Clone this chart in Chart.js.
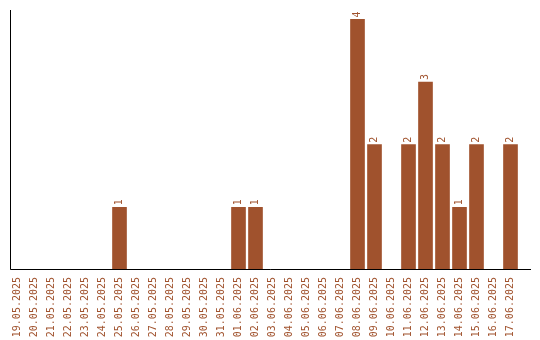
<!DOCTYPE html>
<html>
<head>
    <title>Daily Count</title>
    <script src="https://cdn.jsdelivr.net/npm/chart.js"></script>
    <style>
body{
    margin: 0;
    background-color: #ffffff;
}
#wrap{
    width: 540px;
    height: 340px;
}
    </style>
</head>
<body>
    <div id="wrap">
        <canvas id="dailyChart"></canvas>
    </div>

    <script>
        const days = ['19.05.2025','20.05.2025','21.05.2025','22.05.2025','23.05.2025','24.05.2025','25.05.2025',
            '26.05.2025','27.05.2025','28.05.2025','29.05.2025','30.05.2025','31.05.2025','01.06.2025',
            '02.06.2025','03.06.2025','04.06.2025','05.06.2025','06.06.2025','07.06.2025','08.06.2025',
            '09.06.2025','10.06.2025','11.06.2025','12.06.2025','13.06.2025','14.06.2025','15.06.2025',
            '16.06.2025','17.06.2025'];
        const counts = [0,0,0,0,0,0,1, 0,0,0,0,0,0,1, 1,0,0,0,0,0,4, 2,0,2,3,2,1,2, 0,2];

        const barColor = '#a0522d';
        const monoFont = '"DejaVu Sans Mono", monospace';

        // axis lines + rotated value labels on top of the bars
        const decorations = {
            id: 'decorations',
            afterDatasetsDraw(chart) {
                const ctx = chart.ctx;
                const area = chart.chartArea;
                ctx.save();
                ctx.strokeStyle = '#000';
                ctx.lineWidth = 1;
                ctx.beginPath();
                ctx.moveTo(area.left + 1.5, area.top);
                ctx.lineTo(area.left + 1.5, area.bottom - 0.5);
                ctx.lineTo(area.right + 12, area.bottom - 0.5);
                ctx.stroke();

                ctx.fillStyle = barColor;
                ctx.font = '10px ' + monoFont;
                ctx.textAlign = 'left';
                ctx.textBaseline = 'middle';
                chart.getDatasetMeta(0).data.forEach((bar, i) => {
                    if (!counts[i]) return;
                    ctx.save();
                    ctx.translate(bar.x, bar.y - 2);
                    ctx.rotate(-Math.PI / 2);
                    ctx.fillText(String(counts[i]), 0, 0);
                    ctx.restore();
                });
                ctx.restore();
            }
        };

        new Chart(document.getElementById('dailyChart'), {
            type: 'bar',
            data: {
                labels: days,
                datasets: [{
                    data: counts,
                    backgroundColor: barColor,
                    borderWidth: 0,
                    barThickness: 14
                }]
            },
            options: {
                responsive: true,
                maintainAspectRatio: false,
                animation: false,
                layout: {padding: {top: 10, left: 9, right: 21, bottom: 0}},
                plugins: {
                    legend: {display: false},
                    tooltip: {enabled: false}
                },
                scales: {
                    x: {
                        grid: {display: false, drawTicks: false},
                        border: {display: false},
                        afterFit: (scale) => { scale.height = 70; },
                        ticks: {
                            autoSkip: false,
                            minRotation: 90,
                            maxRotation: 90,
                            padding: 7,
                            color: barColor,
                            font: {family: monoFont, size: 10}
                        }
                    },
                    y: {
                        display: false,
                        min: 0,
                        max: 4.15
                    }
                }
            },
            plugins: [decorations]
        });
    </script>
</body>
</html>
